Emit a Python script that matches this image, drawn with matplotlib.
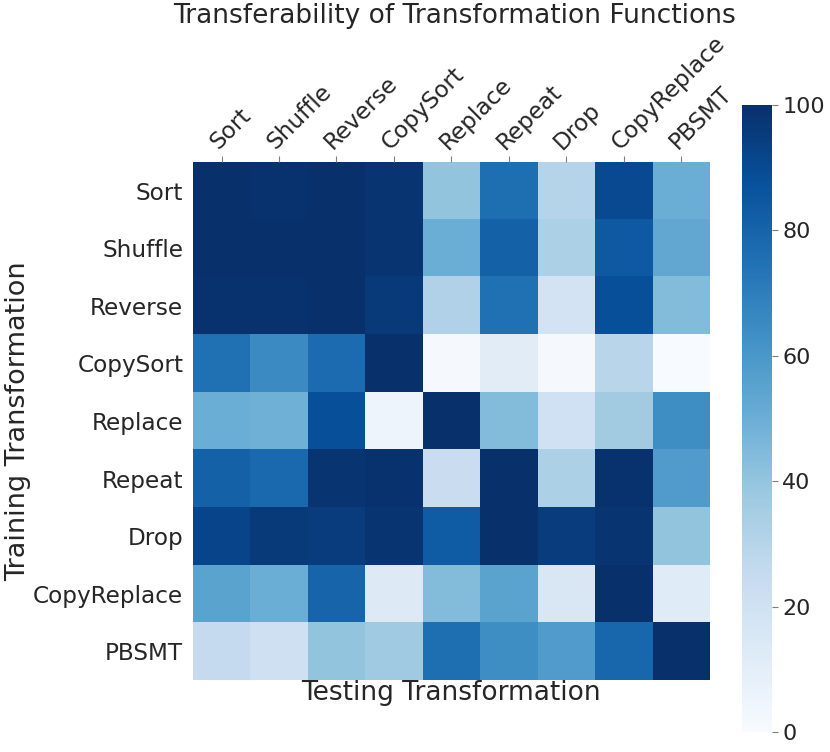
import numpy as np
import matplotlib
matplotlib.use('Agg')
import matplotlib.pyplot as plt

labels = ['Sort', 'Shuffle', 'Reverse', 'CopySort', 'Replace', 'Repeat',
          'Drop', 'CopyReplace', 'PBSMT']

# rows = training transformation, columns = testing transformation
sort_row = [100, 99, 100, 98, 40, 76, 30, 90, 50]
shuffle_row = [100, 100, 100, 98, 50, 81, 33, 84, 53]
reverse_row = [99, 99, 100, 96, 32, 75, 18, 88, 44]
copysort_row = [75, 65, 77, 100, 1, 11, 1, 29, 0]
replace_row = [50, 49, 88, 5, 100, 44, 20, 36, 64]
repeat_row = [81, 78, 98, 99, 23, 100, 33, 99, 58]
drop_row = [92, 96, 95, 98, 83, 100, 95, 98, 40]
copyreplace_row = [55, 50, 80, 13, 44, 55, 15, 100, 12]
pbsmt_row = [25, 21, 40, 37, 76, 64, 58, 79, 100]

scores = np.array([sort_row, shuffle_row, reverse_row, copysort_row,
                   replace_row, repeat_row, drop_row, copyreplace_row,
                   pbsmt_row])

plt.rcParams['font.family'] = 'DejaVu Sans'
plt.rcParams['font.size'] = 16.7
plt.rcParams['text.color'] = '#262626'
plt.rcParams['axes.labelcolor'] = '#262626'
plt.rcParams['xtick.color'] = '#262626'
plt.rcParams['ytick.color'] = '#262626'

fig = plt.figure(figsize=(8.3, 7.52), dpi=100)
ax = fig.add_axes([0.2325, 0.0957, 0.6225, 0.6889])
cax = fig.add_axes([0.894, 0.0266, 0.0361, 0.8338])

im = ax.imshow(scores, cmap='Blues', vmin=0, vmax=100, aspect='auto')

ax.set_xticks(np.arange(len(labels)))
ax.set_yticks(np.arange(len(labels)))
ax.set_yticklabels(labels)
ax.xaxis.tick_top()
ax.set_xticklabels(labels, rotation=45, ha='left', rotation_mode='anchor')
ax.tick_params(axis='x', length=4, color='#7f7f7f', pad=2)
ax.tick_params(axis='y', length=0, pad=7)
for s in ax.spines.values():
    s.set_visible(False)

ax.xaxis.set_label_position('bottom')
ax.set_xlabel('Testing Transformation', labelpad=0, fontsize=19)
ax.set_ylabel('Training Transformation', fontsize=19.5)
ax.yaxis.set_label_coords(-0.313, 0.5)

cb = fig.colorbar(im, cax=cax, ticks=[0, 20, 40, 60, 80, 100])
cb.outline.set_visible(False)
cax.tick_params(length=4, color='#7f7f7f', labelsize=16)

fig.text(0.547, 0.979, 'Transferability of Transformation Functions',
         ha='center', va='center', fontsize=19)

fig.savefig('out.png', dpi=100)
